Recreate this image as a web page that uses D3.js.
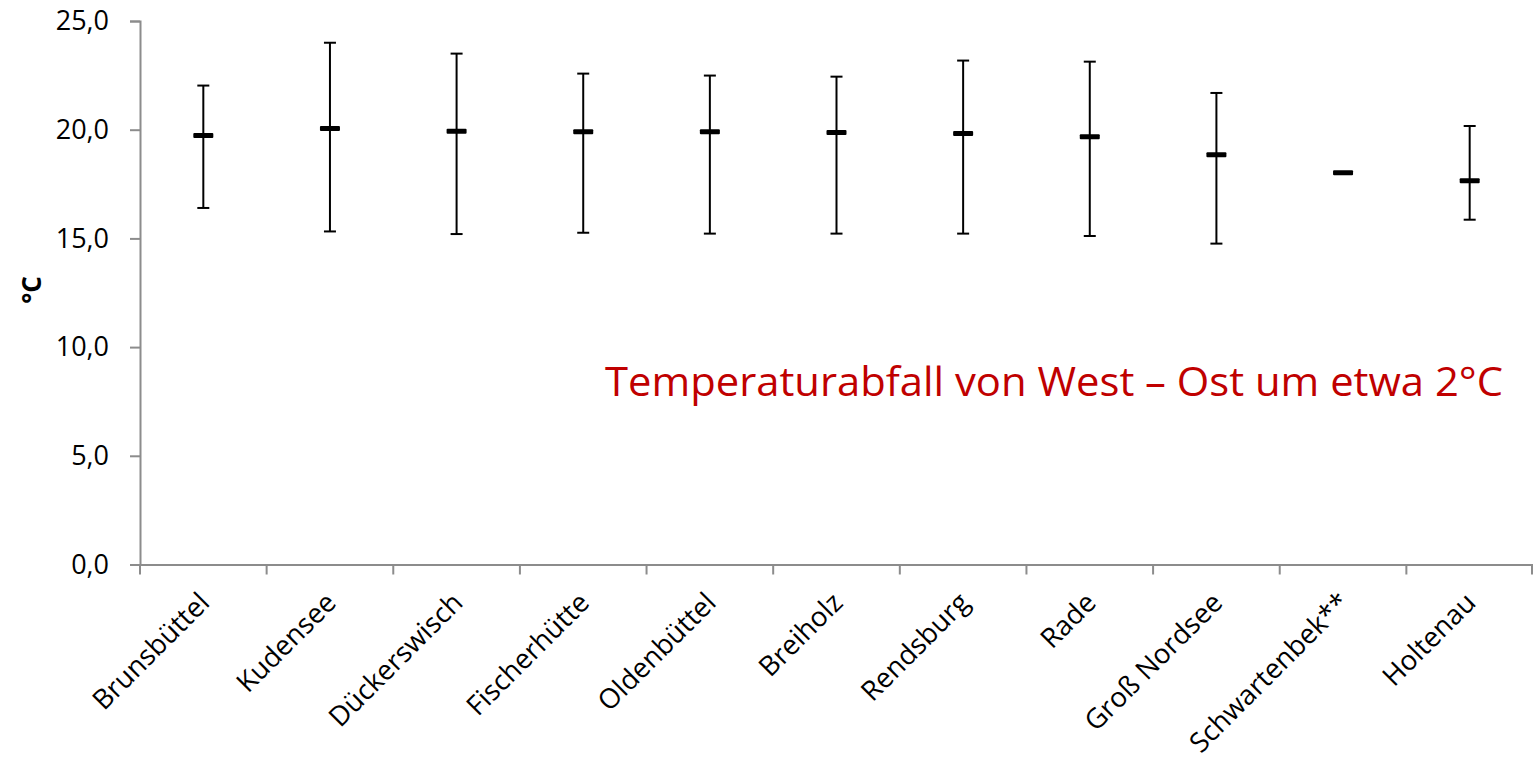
<!DOCTYPE html>
<html>
<head>
<meta charset="utf-8">
<script src="https://cdn.jsdelivr.net/npm/d3@7"></script>
<style>
  body { margin: 0; background: #fff; }
  svg text { font-family: "Open Sans", "Liberation Sans", sans-serif; }
</style>
</head>
<body>
<div id="chart"></div>
<script>
var stations = ["Brunsbüttel", "Kudensee", "Dückerswisch", "Fischerhütte", "Oldenbüttel",
    "Breiholz", "Rendsburg", "Rade", "Groß Nordsee", "Schwartenbek**", "Holtenau"];
var meanTemp = [19.73, 20.05, 19.93, 19.91, 19.91, 19.87, 19.82, 19.67, 18.85, 18.02, 17.65];
var maxTemp = [22.03, 24.0, 23.5, 22.58, 22.49, 22.44, 23.18, 23.13, 21.69, null, 20.17];
var minTemp = [16.4, 15.32, 15.2, 15.26, 15.22, 15.22, 15.22, 15.11, 14.76, null, 15.86];
var yTicks = [0, 5, 10, 15, 20, 25];

var width = 1533, height = 761;
var plotLeft = 140, plotRight = 1533, plotTop = 21, plotBottom = 564.5;

var svg = d3.select("#chart").append("svg")
    .attr("width", width)
    .attr("height", height);

var x = d3.scaleBand().domain(stations).range([plotLeft, plotRight]);
var y = d3.scaleLinear().domain([0, 25]).range([plotBottom, plotTop]);

var fmt = function(d) { return d3.format(".1f")(d).replace(".", ","); };

// y axis
var yAxis = svg.append("g")
    .attr("transform", "translate(" + plotLeft + ",0)")
    .call(d3.axisLeft(y).tickValues(yTicks).tickSize(10).tickPadding(21).tickFormat(fmt));
yAxis.select(".domain").attr("stroke", "#8c8c8c").attr("stroke-width", 2);
yAxis.selectAll(".tick line").attr("stroke", "#8c8c8c").attr("stroke-width", 2);
yAxis.selectAll(".tick text").attr("font-size", 27).attr("fill", "#000")
    .attr("font-family", "'Open Sans', sans-serif");

// x axis
var xAxis = svg.append("g")
    .attr("transform", "translate(0," + plotBottom + ")")
    .call(d3.axisBottom(x).tickSize(0).tickFormat(""));
xAxis.select(".domain").attr("stroke", "#8c8c8c").attr("stroke-width", 2);

var bounds = x.domain().map(function(d) { return x(d); }).concat([plotRight - 1]);
svg.selectAll(".xtick").data(bounds).enter().append("line")
    .attr("x1", function(d) { return d; })
    .attr("x2", function(d) { return d; })
    .attr("y1", plotBottom)
    .attr("y2", plotBottom + 10)
    .attr("stroke", "#8c8c8c")
    .attr("stroke-width", 2);

svg.selectAll(".xlabel").data(stations).enter().append("text")
    .attr("transform", function(d) {
        return "translate(" + (x(d) + x.bandwidth() / 2 + 1) + "," + (plotBottom + 33) + ") rotate(-45)";
    })
    .attr("text-anchor", "end")
    .attr("dy", "0.35em")
    .attr("font-size", 27.5)
    .text(function(d) { return d; });

// axis title
svg.append("text")
    .attr("transform", "translate(41,290) rotate(-90)")
    .attr("text-anchor", "middle")
    .attr("font-size", 26)
    .attr("font-weight", "bold")
    .text("°C");

// error bars
var idx = d3.range(stations.length).filter(function(i) { return maxTemp[i] != null; });
var cx = function(i) { return x(stations[i]) + x.bandwidth() / 2; };

svg.selectAll(".err").data(idx).enter().append("line")
    .attr("x1", cx).attr("x2", cx)
    .attr("y1", function(i) { return y(maxTemp[i]); })
    .attr("y2", function(i) { return y(minTemp[i]); })
    .attr("stroke", "#000").attr("stroke-width", 2);

svg.selectAll(".capTop").data(idx).enter().append("line")
    .attr("x1", function(i) { return cx(i) - 6; })
    .attr("x2", function(i) { return cx(i) + 6; })
    .attr("y1", function(i) { return y(maxTemp[i]); })
    .attr("y2", function(i) { return y(maxTemp[i]); })
    .attr("stroke", "#000").attr("stroke-width", 2);

svg.selectAll(".capBot").data(idx).enter().append("line")
    .attr("x1", function(i) { return cx(i) - 6; })
    .attr("x2", function(i) { return cx(i) + 6; })
    .attr("y1", function(i) { return y(minTemp[i]); })
    .attr("y2", function(i) { return y(minTemp[i]); })
    .attr("stroke", "#000").attr("stroke-width", 2);

// mean markers
svg.selectAll(".mean").data(meanTemp).enter().append("rect")
    .attr("x", function(d, i) { return cx(i) - 10; })
    .attr("y", function(d) { return y(d) - 2.5; })
    .attr("width", 20)
    .attr("height", 5)
    .attr("rx", 1)
    .attr("fill", "#000");

// annotation
svg.append("text")
    .attr("x", 1503)
    .attr("y", 396)
    .attr("text-anchor", "end")
    .attr("font-size", 41)
    .attr("textLength", 898)
    .attr("lengthAdjust", "spacingAndGlyphs")
    .attr("fill", "#c00000")
    .text("Temperaturabfall von West – Ost um etwa 2°C");
</script>
</body>
</html>
